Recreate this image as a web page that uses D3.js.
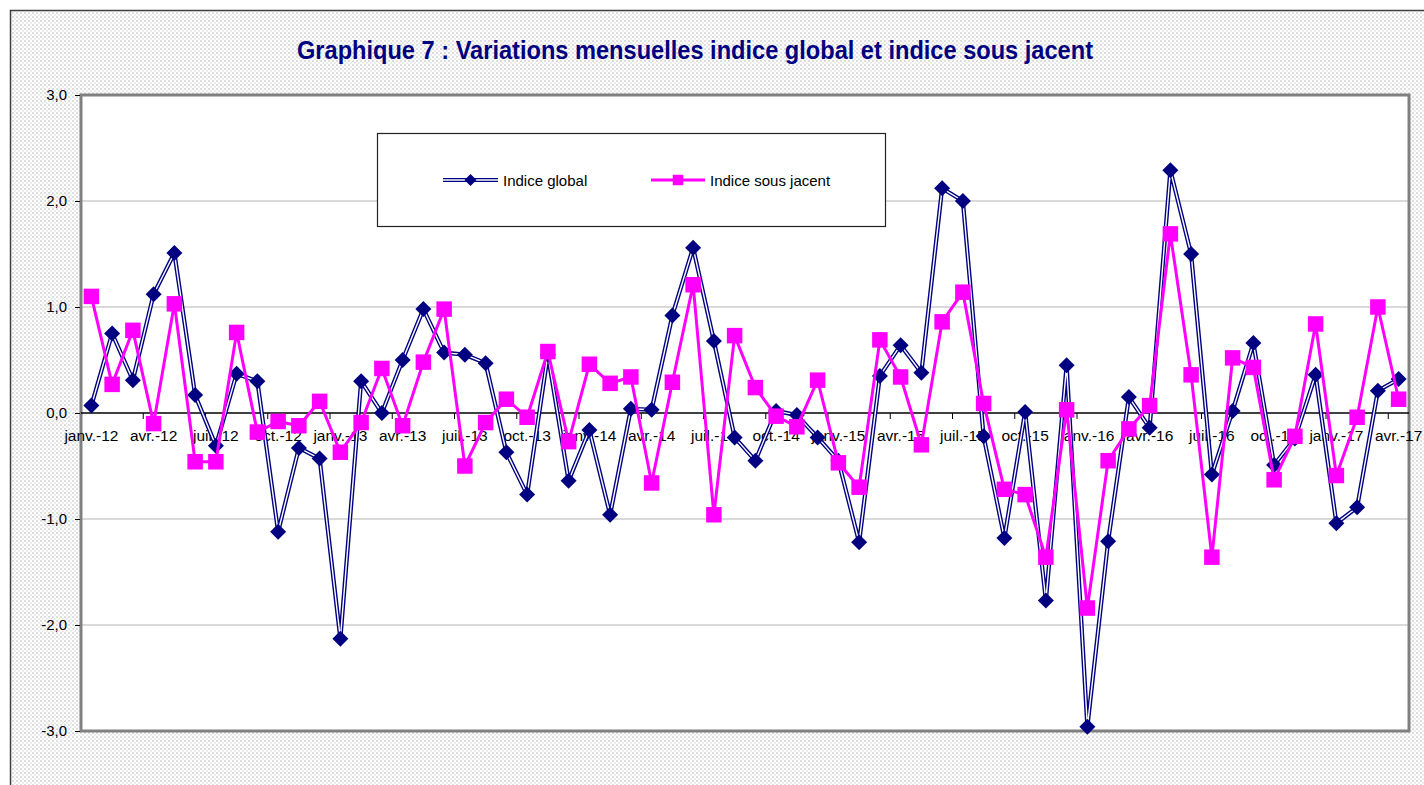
<!DOCTYPE html>
<html>
<head>
<meta charset="utf-8">
<script src="https://cdn.jsdelivr.net/npm/d3@7"></script>
<style>
  body { margin: 0; background: #fff; }
  svg { display: block; font-family: "Liberation Sans", Arial, sans-serif; }
</style>
</head>
<body>
<svg id="chart" width="1424" height="785"></svg>
<script>
// month labels, janv.-12 .. avr.-17
const monthNames = ["janv.", "févr.", "mars", "avr.", "mai", "juin", "juil.", "août", "sept.", "oct.", "nov.", "déc."];
const years = ["12", "13", "14", "15", "16", "17"];
const months = [];
years.forEach(y => monthNames.forEach(m => months.push(m + "-" + y)));
months.length = 64;

// Indice global (monthly change, %)
const indiceGlobal = [
  0.07, 0.75, 0.31, 1.12, 1.51, 0.17, -0.31, 0.37, 0.30, -1.12, -0.33, -0.43,
  -2.13, 0.30, 0.00, 0.50, 0.98, 0.57, 0.55, 0.47, -0.37, -0.77, 0.55, -0.64,
  -0.16, -0.96, 0.04, 0.03, 0.92, 1.56, 0.68, -0.23, -0.45, 0.02, -0.02, -0.23,
  -0.45, -1.22, 0.35, 0.64, 0.38, 2.12, 2.00, -0.22, -1.18, 0.01, -1.77, 0.45,
  -2.96, -1.21, 0.15, -0.14, 2.29, 1.50, -0.58, 0.02, 0.66, -0.49, -0.24, 0.36,
  -1.04, -0.89, 0.21, 0.32
];

// Indice sous jacent
const indiceSousJacent = [
  1.10, 0.27, 0.78, -0.10, 1.03, -0.46, -0.46, 0.76, -0.18, -0.08, -0.12, 0.11,
  -0.37, -0.09, 0.42, -0.12, 0.48, 0.98, -0.50, -0.09, 0.13, -0.04, 0.58, -0.27,
  0.46, 0.28, 0.34, -0.66, 0.29, 1.21, -0.96, 0.73, 0.24, -0.03, -0.13, 0.31,
  -0.47, -0.70, 0.69, 0.34, -0.30, 0.86, 1.14, 0.09, -0.72, -0.77, -1.36, 0.03,
  -1.84, -0.45, -0.15, 0.07, 1.69, 0.36, -1.36, 0.52, 0.43, -0.63, -0.22, 0.84,
  -0.59, -0.04, 1.00, 0.13
];

const yTicks = [3, 2, 1, 0, -1, -2, -3];
const titleText = "Graphique 7 : Variations mensuelles indice global et indice sous jacent";
const seriesNames = ["Indice global", "Indice sous jacent"];

const navy = "#000080", pink = "#ff00ff";
const plot = { left: 81, right: 1409, top: 95, bottom: 731 };

const svg = d3.select("#chart");
const defs = svg.append("defs");

// dotted chart background
const pat = defs.append("pattern")
  .attr("id", "dots")
  .attr("width", 4).attr("height", 4)
  .attr("patternUnits", "userSpaceOnUse");
pat.append("rect").attr("width", 4).attr("height", 4).attr("fill", "#fff");
pat.append("rect").attr("width", 2).attr("height", 2).attr("fill", "#dedede");
pat.append("rect").attr("x", 2).attr("y", 2).attr("width", 2).attr("height", 2).attr("fill", "#ececec");

svg.append("rect")
  .attr("x", 10.5).attr("y", 10.5)
  .attr("width", 1440).attr("height", 800)
  .attr("fill", "url(#dots)")
  .attr("stroke", "#404040").attr("stroke-width", 1.5);

// title
svg.append("text")
  .attr("x", 695).attr("y", 59)
  .attr("text-anchor", "middle")
  .attr("font-size", 25).attr("font-weight", "bold")
  .attr("fill", navy)
  .attr("textLength", 796).attr("lengthAdjust", "spacingAndGlyphs")
  .text(titleText);

// scales
const x = d3.scaleBand().domain(months).range([plot.left, plot.right]);
const cx = d => x(d) + x.bandwidth() / 2;
const y = d3.scaleLinear().domain([-3, 3]).range([plot.bottom, plot.top]);

// plot area
svg.append("rect")
  .attr("x", plot.left).attr("y", plot.top)
  .attr("width", plot.right - plot.left).attr("height", plot.bottom - plot.top)
  .attr("fill", "#fff");

// gridlines
svg.append("g")
  .selectAll("line")
  .data(yTicks.filter(t => t !== 0 && Math.abs(t) !== 3))
  .enter().append("line")
  .attr("x1", plot.left).attr("x2", plot.right)
  .attr("y1", d => y(d)).attr("y2", d => y(d))
  .attr("stroke", "#b4b4b4").attr("stroke-width", 1.2);

// plot border
svg.append("rect")
  .attr("x", plot.left).attr("y", plot.top)
  .attr("width", plot.right - plot.left).attr("height", plot.bottom - plot.top)
  .attr("fill", "none")
  .attr("stroke", "#808080").attr("stroke-width", 3);

// y axis
const yAxis = d3.axisLeft(y)
  .tickValues(yTicks)
  .tickSize(5)
  .tickPadding(8)
  .tickFormat(d => d3.format(".1f")(d).replace(".", ",").replace("−", "-"));

svg.append("g")
  .attr("transform", `translate(${plot.left - 1},0)`)
  .call(yAxis)
  .call(g => g.select(".domain").remove())
  .call(g => g.selectAll(".tick line").attr("stroke", "#000"))
  .call(g => g.selectAll("text").attr("font-size", 15).attr("fill", "#000")
    .attr("font-family", "'Liberation Sans', Arial, sans-serif"));

// zero line + category ticks
svg.append("line")
  .attr("x1", plot.left).attr("x2", plot.right)
  .attr("y1", y(0)).attr("y2", y(0))
  .attr("stroke", "#000").attr("stroke-width", 1.5);

const boundaryIdx = d3.range(3, months.length, 3);
svg.append("g")
  .selectAll("line")
  .data(boundaryIdx)
  .enter().append("line")
  .attr("x1", i => x(months[i])).attr("x2", i => x(months[i]))
  .attr("y1", y(0)).attr("y2", y(0) + 6)
  .attr("stroke", "#000").attr("stroke-width", 1);

// category labels (every 3rd month)
svg.append("g")
  .selectAll("text")
  .data(months.filter((m, i) => i % 3 === 0))
  .enter().append("text")
  .attr("x", d => cx(d))
  .attr("y", y(0) + 28)
  .attr("text-anchor", "middle")
  .attr("font-size", 15.5)
  .attr("fill", "#000")
  .text(d => d);

// series
const line = d3.line().x((d, i) => cx(months[i])).y(d => y(d));

const diamond = d3.symbol(d3.symbolSquare, 128);
const square = d3.symbol(d3.symbolSquare, 240);

// indice global: double line + diamonds
svg.append("path")
  .attr("d", line(indiceGlobal))
  .attr("fill", "none").attr("stroke", navy).attr("stroke-width", 4.2)
  .attr("stroke-linejoin", "round");
svg.append("path")
  .attr("d", line(indiceGlobal))
  .attr("fill", "none").attr("stroke", "#fff").attr("stroke-width", 1.4)
  .attr("stroke-linejoin", "round");
svg.append("g")
  .selectAll("path")
  .data(indiceGlobal)
  .enter().append("path")
  .attr("d", diamond)
  .attr("transform", (d, i) => `translate(${cx(months[i])},${y(d)}) rotate(45)`)
  .attr("fill", navy);

// indice sous jacent: pink line + squares
svg.append("path")
  .attr("d", line(indiceSousJacent))
  .attr("fill", "none").attr("stroke", pink).attr("stroke-width", 3)
  .attr("stroke-linejoin", "round");
svg.append("g")
  .selectAll("path")
  .data(indiceSousJacent)
  .enter().append("path")
  .attr("d", square)
  .attr("transform", (d, i) => `translate(${cx(months[i])},${y(d)})`)
  .attr("fill", pink);

// legend
const legend = svg.append("g");
legend.append("rect")
  .attr("x", 377.5).attr("y", 133.5)
  .attr("width", 508).attr("height", 93)
  .attr("fill", "#fff").attr("stroke", "#222").attr("stroke-width", 1.2);

const lg = [
  { name: seriesNames[0], x0: 443, x1: 498, color: navy, sym: "d" },
  { name: seriesNames[1], x0: 651, x1: 705, color: pink, sym: "s" }
];
const ly = 180;
lg.forEach(s => {
  if (s.sym === "d") {
    legend.append("line").attr("x1", s.x0).attr("x2", s.x1).attr("y1", ly).attr("y2", ly)
      .attr("stroke", navy).attr("stroke-width", 4.2);
    legend.append("line").attr("x1", s.x0).attr("x2", s.x1).attr("y1", ly).attr("y2", ly)
      .attr("stroke", "#fff").attr("stroke-width", 1.4);
    legend.append("path").attr("d", d3.symbol(d3.symbolSquare, 72))
      .attr("transform", `translate(${(s.x0 + s.x1) / 2},${ly}) rotate(45)`)
      .attr("fill", navy);
  } else {
    legend.append("line").attr("x1", s.x0).attr("x2", s.x1).attr("y1", ly).attr("y2", ly)
      .attr("stroke", pink).attr("stroke-width", 3);
    legend.append("path").attr("d", d3.symbol(d3.symbolSquare, 110))
      .attr("transform", `translate(${(s.x0 + s.x1) / 2},${ly})`)
      .attr("fill", pink);
  }
  legend.append("text")
    .attr("x", s.x1 + 5).attr("y", ly + 6)
    .attr("font-size", 15).attr("fill", "#000")
    .text(s.name);
});
</script>
</body>
</html>
